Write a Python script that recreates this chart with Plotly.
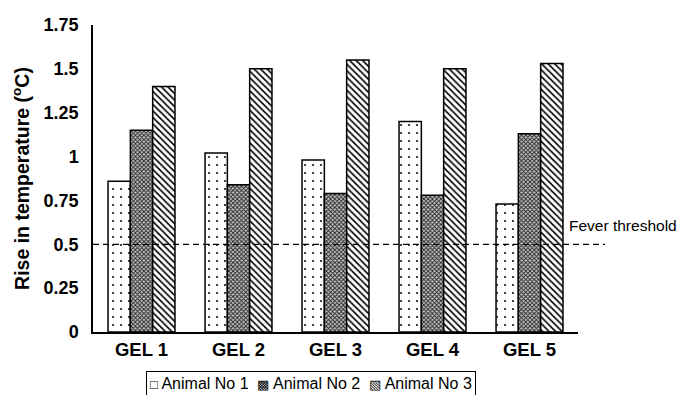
import plotly.graph_objects as go

# Rise in body temperature per animal for each gel formulation
gels = ["GEL 1", "GEL 2", "GEL 3", "GEL 4", "GEL 5"]
animal_1 = [0.86, 1.02, 0.98, 1.20, 0.73]
animal_2 = [1.15, 0.84, 0.79, 0.78, 1.13]
animal_3 = [1.40, 1.50, 1.55, 1.50, 1.53]
series_names = ["Animal No 1", "Animal No 2", "Animal No 3"]
key_glyphs = ["□", "▩", "▧"]

fever_threshold = 0.5
y_tick_vals = [0, 0.25, 0.5, 0.75, 1, 1.25, 1.5, 1.75]
y_tick_text = ["0", "0.25", "0.5", "0.75", "1", "1.25", "1.5", "1.75"]

FONT = "Liberation Sans, Arial, sans-serif"

patterns = [
    dict(shape=".", size=8, solidity=0.05, fgcolor="black", bgcolor="white", fillmode="replace"),
    dict(shape="x", size=3, solidity=0.5, fgcolor="#222222", bgcolor="#c4c4c4", fillmode="replace"),
    dict(shape="\\", size=4.6, solidity=0.35, fgcolor="black", bgcolor="white", fillmode="replace"),
]

fig = go.Figure()
for name, vals, pat in zip(series_names, [animal_1, animal_2, animal_3], patterns):
    fig.add_trace(go.Bar(
        x=gels, y=vals, name=name, showlegend=False,
        marker=dict(color="white", pattern=pat, line=dict(color="black", width=1.5)),
    ))

# dashed fever threshold line running past the plot area
fig.add_shape(type="line", xref="paper", yref="y", x0=0, x1=1.056,
              y0=fever_threshold, y1=fever_threshold,
              line=dict(color="black", width=1.3, dash="6px,4px"))
fig.add_annotation(xref="paper", yref="y", x=0.977, y=fever_threshold,
                   xanchor="left", yanchor="middle", yshift=19,
                   text="Fever threshold", showarrow=False,
                   font=dict(family=FONT, size=15.5, color="black"))

# boxed key below the axis
key_text = "  ".join(
    f"<span style='font-size:13px'>{g}</span> {n}" for g, n in zip(key_glyphs, series_names)
)
fig.add_annotation(xref="paper", yref="paper", x=0.45, y=-0.128,
                   xanchor="center", yanchor="top", showarrow=False,
                   text=key_text,
                   font=dict(family=FONT, size=16, color="black"),
                   bordercolor="black", borderwidth=1, borderpad=3, bgcolor="white")

fig.update_layout(
    width=680, height=395,
    margin=dict(l=93, r=102, t=25, b=63),
    paper_bgcolor="white", plot_bgcolor="white",
    barmode="group", bargap=0.31, bargroupgap=0,
    font=dict(family=FONT, color="black"),
)
fig.update_xaxes(showline=True, linecolor="black", linewidth=1.5,
                 showgrid=False, ticks="",
                 tickfont=dict(family=FONT, size=18.5, weight="bold"))
fig.update_yaxes(range=[0, 1.75], tickvals=y_tick_vals, ticktext=y_tick_text,
                 showline=True, linecolor="black", linewidth=1.5,
                 showgrid=False, zeroline=False, ticks="", ticklabelstandoff=9,
                 tickfont=dict(family=FONT, size=18, weight="bold"),
                 title=dict(text="Rise in temperature (<sup>o</sup>C)", standoff=9,
                            font=dict(family=FONT, size=19.5, weight="bold")))

fig.write_html("out.html")
